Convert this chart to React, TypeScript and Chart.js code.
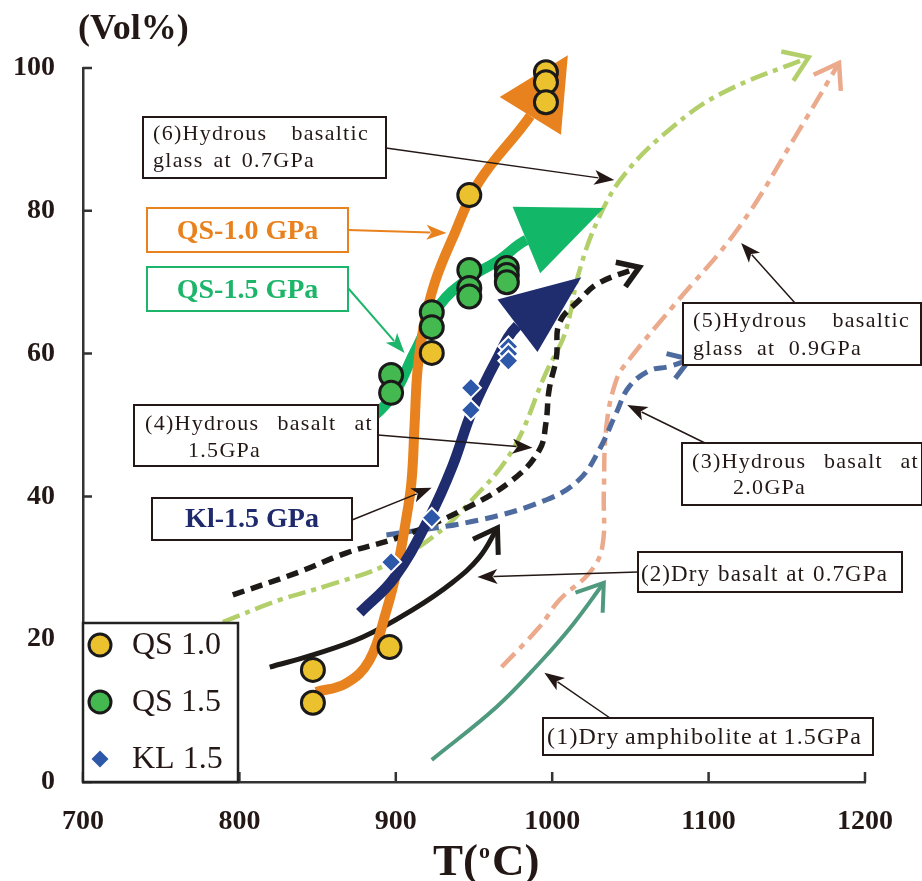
import React, { useEffect, useRef } from 'react';
import { Chart, registerables } from 'chart.js';
Chart.register(...registerables);

// ---------- axis ticks ----------
const X_TICKS = [700, 800, 900, 1000, 1100, 1200];
const Y_TICKS = [0, 20, 40, 60, 80, 100];

// ---------- scatter data ----------
const QS10_T = [847, 847, 896, 923, 947, 996, 996, 996];
const QS10_V = [15.7, 11.1, 18.9, 60.1, 82.2, 99.4, 98.0, 95.2];
const QS15_T = [897, 897, 923, 923, 947, 947, 947, 971, 971, 971];
const QS15_V = [57.0, 54.5, 65.8, 63.7, 71.7, 69.2, 68.0, 72.0, 71.0, 70.0];
const KL15_T = [897, 923, 948, 948, 972, 972, 972];
const KL15_V = [30.8, 37.0, 55.2, 52.1, 61.0, 60.0, 59.0];

// ---------- trend curves (last point = arrow tip) ----------
const QS10_CURVE_T = [849, 868, 883, 894, 901, 906, 910, 912, 914, 918, 925, 936, 953, 986, 1010];
const QS10_CURVE_V = [12.6, 13.8, 17, 24, 30, 36, 42, 50, 58, 64, 70, 76, 84, 93.3, 101.8];
const QS15_CURVE_T = [840.5, 870.5, 896, 912, 928, 947, 966, 983.5, 1033];
const QS15_CURVE_V = [46.2, 49.0, 53.5, 60.2, 66.8, 70.6, 73.1, 75.9, 80.4];
const KL15_CURVE_T = [877, 899, 921.6, 936, 949, 964.4, 977.8, 1018.6];
const KL15_CURVE_V = [23.7, 28.6, 37.1, 44.1, 52.1, 59.1, 63.9, 70.7];
const DRY_AMPH_T = [923, 964.4, 992, 1013, 1033];
const DRY_AMPH_V = [3.1, 10.5, 16.7, 22.0, 27.9];
const DRY_BAS07_T = [819.4, 847, 879, 910.7, 936, 953.5, 965];
const DRY_BAS07_V = [16.1, 17.8, 20.3, 24.1, 27.9, 31.5, 35.6];
const HYD_BAS20_T = [894, 953.5, 996, 1017, 1030, 1041, 1049, 1062, 1075, 1088];
const HYD_BAS20_V = [34.6, 36.7, 39.5, 42.3, 46.5, 51.7, 55.3, 57.6, 58.2, 59.2];
const HYD_BAS15_T = [795.8, 836.7, 868.6, 902.4, 942.7, 974.6, 991.8, 996, 998, 1002.7, 1004.6, 1017.4, 1030, 1055.7];
const HYD_BAS15_V = [26.2, 29.3, 32.1, 34.3, 38.1, 42.3, 46.5, 50.3, 54.9, 59.5, 64.3, 67.5, 69.9, 72.1];
const HYD_GL09_T = [967.6, 991.8, 1004.6, 1023.8, 1032, 1033, 1034.6, 1041, 1049, 1076.8, 1119.5, 1157.9, 1183.4];
const HYD_GL09_V = [16.1, 21.7, 25.5, 29.3, 32.9, 40.5, 49.7, 56.3, 59.1, 66.5, 77.7, 91.3, 100.7];
const HYD_GL07_T = [789.4, 825.8, 857.7, 894, 923.5, 947, 974.6, 996, 1006.5, 1011, 1017, 1030, 1047, 1076.8, 1108.7, 1164];
const HYD_GL07_V = [22.4, 25.5, 27.6, 30.4, 34.3, 39.1, 46.5, 57.3, 61.9, 65.1, 71.3, 79.1, 85.3, 91.7, 96.5, 101.5];

// ---------- legend ----------
const LEGEND_LABELS = ['QS 1.0', 'QS 1.5', 'KL 1.5'];

const SERIF = '"Liberation Serif", "Times New Roman", serif';
const INK = '#231815';

type Box = {
  x: number; y: number; w: number; h: number; stroke: string;
  font: string; color: string; spacing: string;
  lines: { text: string; x: number; x1?: number; y: number; center?: boolean }[];
  from: [number, number]; to: [number, number]; arrowColor: string; arrowWidth: number;
};

const BOXES: Box[] = [
  {
    x: 143, y: 117, w: 243, h: 61, stroke: INK, font: `22px ${SERIF}`, color: INK, spacing: '1.3px',
    lines: [
      { text: '(6)Hydrous basaltic', x: 153, x1: 369, y: 140 },
      { text: 'glass at 0.7GPa', x: 153, x1: 315, y: 167 },
    ],
    from: [386, 148], to: [1039.7, 84.3], arrowColor: INK, arrowWidth: 1.5,
  },
  {
    x: 147, y: 208, w: 201, h: 44, stroke: '#E8821E', font: `bold 28px ${SERIF}`, color: '#E8821E', spacing: '0px',
    lines: [{ text: 'QS-1.0 GPa', x: 247.5, y: 239, center: true }],
    from: [348, 230], to: [932.4, 76.9], arrowColor: '#E8821E', arrowWidth: 2,
  },
  {
    x: 147, y: 267, w: 201, h: 44, stroke: '#1DB56A', font: `bold 28px ${SERIF}`, color: '#1DB56A', spacing: '0px',
    lines: [{ text: 'QS-1.5 GPa', x: 247.5, y: 298, center: true }],
    from: [348, 288], to: [905.6, 60.1], arrowColor: '#1DB56A', arrowWidth: 2,
  },
  {
    x: 134, y: 405, w: 244, h: 61, stroke: INK, font: `22px ${SERIF}`, color: INK, spacing: '1.3px',
    lines: [
      { text: '(4)Hydrous basalt at', x: 145, x1: 373, y: 430 },
      { text: '1.5GPa', x: 188, y: 457 },
    ],
    from: [378, 435], to: [987.4, 46.8], arrowColor: INK, arrowWidth: 1.5,
  },
  {
    x: 152, y: 498, w: 200, h: 42, stroke: INK, font: `bold 28px ${SERIF}`, color: '#1E2A6B', spacing: '0px',
    lines: [{ text: 'Kl-1.5 GPa', x: 252, y: 527, center: true }],
    from: [352, 520], to: [922.9, 41.2], arrowColor: INK, arrowWidth: 1.5,
  },
  {
    x: 683, y: 303, w: 238, h: 62, stroke: INK, font: `22px ${SERIF}`, color: INK, spacing: '1.3px',
    lines: [
      { text: '(5)Hydrous basaltic', x: 693, x1: 910, y: 327 },
      { text: 'glass at 0.9GPa', x: 693, x1: 862, y: 355 },
    ],
    from: [795, 303], to: [1120.8, 75.5], arrowColor: INK, arrowWidth: 1.5,
  },
  {
    x: 682, y: 443, w: 240, h: 62, stroke: INK, font: `22px ${SERIF}`, color: INK, spacing: '1.3px',
    lines: [
      { text: '(3)Hydrous basalt at', x: 692, x1: 919, y: 468 },
      { text: '2.0GPa', x: 733, y: 494 },
    ],
    from: [705, 443], to: [1048, 52.8], arrowColor: INK, arrowWidth: 1.5,
  },
  {
    x: 638, y: 552, w: 264, h: 40, stroke: INK, font: `23px ${SERIF}`, color: INK, spacing: '1.1px',
    lines: [{ text: '(2)Dry basalt at 0.7GPa', x: 641, x1: 888, y: 581 }],
    from: [638, 572], to: [952.2, 28.7], arrowColor: INK, arrowWidth: 1.5,
  },
  {
    x: 543, y: 718, w: 330, h: 37, stroke: INK, font: `24px ${SERIF}`, color: INK, spacing: '1.2px',
    lines: [{ text: '(1)Dry amphibolite at 1.5GPa', x: 547, x1: 862, y: 744 }],
    from: [610, 718], to: [995, 15.3], arrowColor: INK, arrowWidth: 1.5,
  },
];

function pts(t: number[], v: number[]) {
  return t.map((x, i) => ({ x, y: v[i] }));
}

function curve(t: number[], v: number[], color: string, width: number, order: number, arrow: any, dash?: number[]) {
  const n = t.length;
  const ds: any = {
    type: 'scatter',
    data: pts(t, v),
    showLine: true,
    pointRadius: 0,
    pointHoverRadius: 0,
    borderColor: color,
    backgroundColor: color,
    borderWidth: width,
    borderDash: dash || [],
    tension: 0.4,
    clip: false,
    order,
    arrow: { ...arrow, color, lw: width },
  };
  if (arrow.type === 'fill') {
    ds.segment = {
      borderColor: (c: any) => (c.p1DataIndex === n - 1 ? 'rgba(0,0,0,0)' : color),
    };
  }
  return ds;
}

const arrowPlugin = {
  id: 'arrowheads',
  afterDatasetDraw(chart: any, args: any) {
    const ds = chart.data.datasets[args.index];
    if (!ds.arrow) return;
    const el = args.meta.data;
    const n = el.length;
    const tip = el[n - 1];
    const prev = el[n - 2];
    const dx = tip.x - prev.x;
    const dy = tip.y - prev.y;
    const L = Math.hypot(dx, dy);
    const ux = dx / L;
    const uy = dy / L;
    const ctx = chart.ctx;
    ctx.save();
    if (ds.arrow.type === 'fill') {
      const hw = ds.arrow.width / 2;
      ctx.fillStyle = ds.arrow.color;
      ctx.beginPath();
      ctx.moveTo(tip.x, tip.y);
      ctx.lineTo(prev.x - uy * hw, prev.y + ux * hw);
      ctx.lineTo(prev.x + uy * hw, prev.y - ux * hw);
      ctx.closePath();
      ctx.fill();
    } else {
      const a = ds.arrow.angle;
      const len = ds.arrow.len;
      const back = Math.atan2(-uy, -ux);
      ctx.strokeStyle = ds.arrow.color;
      ctx.lineWidth = ds.arrow.lw;
      ctx.setLineDash([]);
      ctx.lineCap = 'butt';
      ctx.lineJoin = 'miter';
      ctx.beginPath();
      ctx.moveTo(tip.x + Math.cos(back + a) * len, tip.y + Math.sin(back + a) * len);
      ctx.lineTo(tip.x, tip.y);
      ctx.lineTo(tip.x + Math.cos(back - a) * len, tip.y + Math.sin(back - a) * len);
      ctx.stroke();
    }
    ctx.restore();
  },
};

function drawArrowLine(ctx: CanvasRenderingContext2D, x0: number, y0: number, x1: number, y1: number, color: string, w: number) {
  const dx = x1 - x0, dy = y1 - y0;
  const L = Math.hypot(dx, dy);
  const ux = dx / L, uy = dy / L;
  const hl = 20, hw = 7.5;
  ctx.save();
  ctx.strokeStyle = color;
  ctx.fillStyle = color;
  ctx.lineWidth = w;
  ctx.beginPath();
  ctx.moveTo(x0, y0);
  ctx.lineTo(x1 - ux * hl * 0.8, y1 - uy * hl * 0.8);
  ctx.stroke();
  ctx.beginPath();
  ctx.moveTo(x1, y1);
  ctx.lineTo(x1 - ux * hl - uy * hw, y1 - uy * hl + ux * hw);
  ctx.lineTo(x1 - ux * hl * 0.75, y1 - uy * hl * 0.75);
  ctx.lineTo(x1 - ux * hl + uy * hw, y1 - uy * hl - ux * hw);
  ctx.closePath();
  ctx.fill();
  ctx.restore();
}

function drawJustified(ctx: CanvasRenderingContext2D, text: string, x0: number, x1: number | undefined, y: number) {
  const words = text.split(' ');
  if (x1 === undefined || words.length < 2) {
    ctx.fillText(text, x0, y);
    return;
  }
  const ws = words.map((w) => ctx.measureText(w).width);
  const total = ws.reduce((a, b) => a + b, 0);
  const gap = (x1 - x0 - total) / (words.length - 1);
  let x = x0;
  words.forEach((w, i) => {
    ctx.fillText(w, x, y);
    x += ws[i] + gap;
  });
}

const decorPlugin = {
  id: 'decor',
  beforeDatasetsDraw(chart: any) {
    const ctx = chart.ctx;
    const xs = chart.scales.x;
    const ys = chart.scales.y;
    ctx.save();
    ctx.strokeStyle = '#333';
    ctx.lineWidth = 2.5;
    ctx.beginPath();
    Y_TICKS.forEach((v) => {
      const py = ys.getPixelForValue(v);
      ctx.moveTo(xs.left, py);
      ctx.lineTo(xs.left + 9, py);
    });
    X_TICKS.forEach((v) => {
      const px = xs.getPixelForValue(v);
      ctx.moveTo(px, ys.bottom);
      ctx.lineTo(px, ys.bottom - 10);
    });
    ctx.stroke();
    ctx.restore();
  },
  afterDraw(chart: any) {
    const ctx: any = chart.ctx;
    const xs = chart.scales.x;
    const ys = chart.scales.y;
    ctx.save();
    // annotation boxes & arrows
    BOXES.forEach((b) => {
      const tx = xs.getPixelForValue(b.to[0]);
      const ty = ys.getPixelForValue(b.to[1]);
      drawArrowLine(ctx, b.from[0], b.from[1], tx, ty, b.arrowColor, b.arrowWidth);
      ctx.fillStyle = '#fff';
      ctx.fillRect(b.x, b.y, b.w, b.h);
      ctx.strokeStyle = b.stroke;
      ctx.lineWidth = 2;
      ctx.strokeRect(b.x, b.y, b.w, b.h);
      ctx.font = b.font;
      ctx.fillStyle = b.color;
      ctx.textBaseline = 'alphabetic';
      ctx.letterSpacing = b.spacing;
      b.lines.forEach((l) => {
        if (l.center) {
          ctx.textAlign = 'center';
          ctx.fillText(l.text, l.x, l.y);
        } else {
          ctx.textAlign = 'left';
          drawJustified(ctx, l.text, l.x, l.x1, l.y);
        }
      });
      ctx.letterSpacing = '0px';
    });
    // legend
    const lx = 83, ly = 623, lw = 155, lh = 159;
    ctx.fillStyle = '#fff';
    ctx.fillRect(lx, ly, lw, lh);
    ctx.strokeStyle = '#222';
    ctx.lineWidth = 2.5;
    ctx.strokeRect(lx, ly, lw, lh);
    const rows = [645, 702, 759];
    const ds = chart.data.datasets;
    rows.forEach((ry, i) => {
      const d = ds[i];
      const mx = 100;
      if (i < 2) {
        ctx.beginPath();
        ctx.arc(mx, ry, 11, 0, Math.PI * 2);
        ctx.fillStyle = d.backgroundColor;
        ctx.fill();
        ctx.lineWidth = 3;
        ctx.strokeStyle = d.borderColor;
        ctx.stroke();
      } else {
        const r = 8.5;
        ctx.beginPath();
        ctx.moveTo(mx, ry - r);
        ctx.lineTo(mx + r, ry);
        ctx.lineTo(mx, ry + r);
        ctx.lineTo(mx - r, ry);
        ctx.closePath();
        ctx.fillStyle = d.backgroundColor;
        ctx.fill();
      }
      ctx.fillStyle = INK;
      ctx.font = `32px ${SERIF}`;
      ctx.textAlign = 'left';
      ctx.textBaseline = 'middle';
      ctx.fillText(LEGEND_LABELS[i], 132, ry + 1);
    });
    // axis titles
    ctx.fillStyle = INK;
    ctx.textBaseline = 'alphabetic';
    ctx.textAlign = 'left';
    ctx.font = `bold 36px ${SERIF}`;
    ctx.fillText('(Vol%)', 78, 39);
    ctx.font = `bold 45px ${SERIF}`;
    let x = 433;
    ctx.fillText('T(', x, 875);
    x += ctx.measureText('T(').width + 1;
    ctx.font = `bold 22px ${SERIF}`;
    ctx.fillText('o', x, 858);
    x += ctx.measureText('o').width + 2;
    ctx.font = `bold 45px ${SERIF}`;
    ctx.fillText('C)', x, 875);
    ctx.restore();
  },
};

export default function App() {
  const ref = useRef<HTMLCanvasElement>(null);
  useEffect(() => {
    if (!ref.current) return;
    const datasets: any[] = [
      {
        type: 'scatter', label: 'QS 1.0', data: pts(QS10_T, QS10_V),
        backgroundColor: '#EBC22D', borderColor: '#1a1a1a', borderWidth: 3,
        pointRadius: 11.5, pointStyle: 'circle', order: 2, clip: false,
      },
      {
        type: 'scatter', label: 'QS 1.5', data: pts(QS15_T, QS15_V),
        backgroundColor: '#43B94F', borderColor: '#1a1a1a', borderWidth: 3,
        pointRadius: 11.5, pointStyle: 'circle', order: 1, clip: false,
      },
      {
        type: 'scatter', label: 'KL 1.5', data: pts(KL15_T, KL15_V),
        backgroundColor: '#2D57A8', borderColor: '#ffffff', borderWidth: 2,
        pointRadius: 10, pointStyle: 'rectRot', order: 0, clip: false,
      },
      curve(KL15_CURVE_T, KL15_CURVE_V, '#1F2C6E', 10.5, 5, { type: 'fill', width: 66 }),
      curve(QS10_CURVE_T, QS10_CURVE_V, '#E8821E', 10, 6, { type: 'fill', width: 72 }),
      curve(QS15_CURVE_T, QS15_CURVE_V, '#12B868', 10.5, 7, { type: 'fill', width: 72 }),
      curve(DRY_BAS07_T, DRY_BAS07_V, '#1E1A17', 5, 8, { type: 'open', angle: 0.58, len: 27 }),
      curve(HYD_BAS15_T, HYD_BAS15_V, '#1E1A17', 5.5, 9, { type: 'open', angle: 0.58, len: 24 }, [12, 7]),
      curve(HYD_BAS20_T, HYD_BAS20_V, '#4E6B9F', 5, 10, { type: 'open', angle: 0.58, len: 24 }, [13, 7]),
      curve(HYD_GL07_T, HYD_GL07_V, '#B3CF6A', 4.5, 11, { type: 'open', angle: 0.6, len: 28 }, [18, 6, 5, 6]),
      curve(HYD_GL09_T, HYD_GL09_V, '#EBAA8C', 4.5, 12, { type: 'open', angle: 0.6, len: 28 }, [19, 7, 6, 7]),
      curve(DRY_AMPH_T, DRY_AMPH_V, '#4F9A7F', 4, 13, { type: 'open', angle: 0.6, len: 30 }),
    ];
    const tickFont = { family: SERIF, weight: 'bold' as const, size: 28 };
    const chart = new Chart(ref.current, {
      type: 'scatter',
      data: { datasets },
      options: {
        animation: false,
        responsive: false,
        events: [],
        layout: { padding: { left: 0, top: 68, right: 57, bottom: 0 } },
        plugins: { legend: { display: false }, tooltip: { enabled: false } },
        scales: {
          x: {
            type: 'linear', min: 700, max: 1200,
            afterBuildTicks: (s: any) => { s.ticks = X_TICKS.map((v) => ({ value: v })); },
            afterFit: (s: any) => { s.height = 99; },
            grid: { display: false, drawTicks: false },
            border: { display: true, color: '#333', width: 2.5 },
            ticks: { color: INK, font: tickFont, padding: 23, maxRotation: 0, callback: (v: any) => String(v) },
          },
          y: {
            type: 'linear', min: 0, max: 100,
            afterBuildTicks: (s: any) => { s.ticks = Y_TICKS.map((v) => ({ value: v })); },
            afterFit: (s: any) => { s.width = 83; },
            grid: { display: false, drawTicks: false },
            border: { display: true, color: '#333', width: 2.5 },
            ticks: { color: INK, font: tickFont, padding: 28, callback: (v: any) => String(v) },
          },
        },
      },
      plugins: [arrowPlugin, decorPlugin],
    } as any);
    return () => chart.destroy();
  }, []);
  return (
    <div style={{ position: 'absolute', left: 0, top: 0, width: 922, height: 881, background: '#fff' }}>
      <canvas ref={ref} width={922} height={881} />
    </div>
  );
}
